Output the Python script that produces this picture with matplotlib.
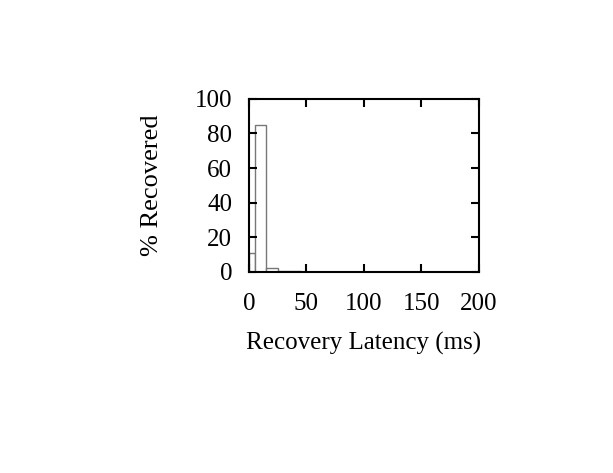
import matplotlib.pyplot as plt

plt.rcParams["font.family"] = ["Liberation Serif", "DejaVu Serif"]

# histogram bins (ms) and percent recovered
bin_left = [0, 5, 15, 25, 35]
bin_width = [5, 10, 10, 10, 10]
pct_recovered = [11, 85, 2.5, 0.8, 0.3]

x_ticks = [0, 50, 100, 150, 200]
y_ticks = [0, 20, 40, 60, 80, 100]

fig = plt.figure(figsize=(6.13, 4.73), dpi=100)
ax = fig.add_axes([0.406, 0.425, 0.375, 0.366])

ax.bar(bin_left, pct_recovered, width=bin_width, align="edge",
       facecolor="white", edgecolor="#777777", linewidth=1.0)

ax.set_xlim(0, 200)
ax.set_ylim(0, 100)
ax.set_xticks(x_ticks)
ax.set_yticks(y_ticks)
ax.tick_params(direction="in", length=6, width=1.5, top=True, right=True,
               labelsize=18)
ax.tick_params(axis="y", pad=12)
ax.tick_params(axis="x", pad=15)
for s in ax.spines.values():
    s.set_linewidth(1.5)

ax.set_xlabel("Recovery Latency (ms)", fontsize=18, labelpad=12)
ax.set_ylabel("% Recovered", fontsize=19, labelpad=23)

fig.savefig("out.png", dpi=100)
